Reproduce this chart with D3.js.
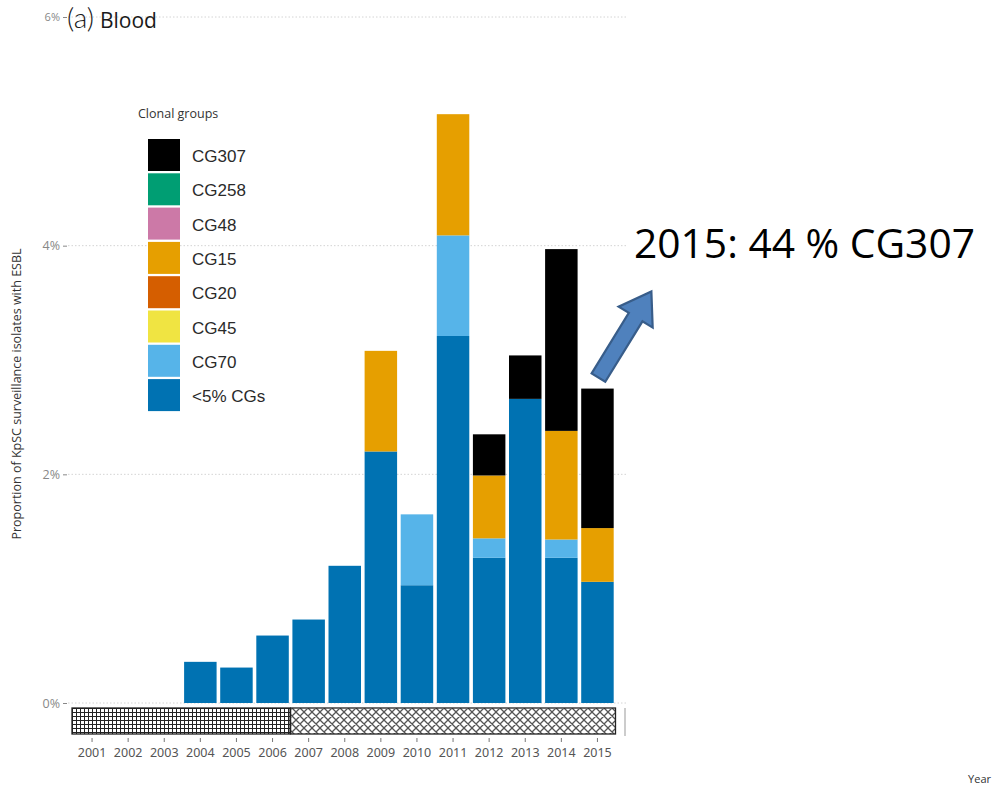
<!DOCTYPE html>
<html>
<head>
<meta charset="utf-8">
<script src="https://cdn.jsdelivr.net/npm/d3@7"></script>
<style>
  html, body { margin: 0; padding: 0; background: #fff; }
  svg { display: block; }
</style>
</head>
<body>
<svg id="chart" width="992" height="785"></svg>
<script>
// Years on the x axis
const years = ["2001","2002","2003","2004","2005","2006","2007","2008",
               "2009","2010","2011","2012","2013","2014","2015"];

// Clonal groups, stacked bottom to top
const groups = ["<5% CGs","CG70","CG45","CG20","CG15","CG48","CG258","CG307"];
// Legend order, top to bottom
const legendOrder = ["CG307","CG258","CG48","CG15","CG20","CG45","CG70","<5% CGs"];
const groupColors = ["#0072B2","#56B4E9","#F0E442","#D55E00","#E69F00","#CC79A7","#009E73","#000000"];

// Proportion (%) of KpSC surveillance isolates with ESBL, per clonal group and year
const minorCGs = [0,0,0,0.36,0.31,0.59,0.73,1.20,2.20,1.03,3.21,1.27,2.66,1.27,1.06];
const cg70     = [0,0,0,0,0,0,0,0,0,0.62,0.88,0.17,0,0.16,0];
const cg45     = [0,0,0,0,0,0,0,0,0,0,0,0,0,0,0];
const cg20     = [0,0,0,0,0,0,0,0,0,0,0,0,0,0,0];
const cg15     = [0,0,0,0,0,0,0,0,0.88,0,1.06,0.55,0,0.95,0.47];
const cg48     = [0,0,0,0,0,0,0,0,0,0,0,0,0,0,0];
const cg258    = [0,0,0,0,0,0,0,0,0,0,0,0,0,0,0];
const cg307    = [0,0,0,0,0,0,0,0,0,0,0,0.36,0.38,1.59,1.22];

// Y axis ticks (%)
const yTicks = [0, 2, 4, 6];

// Sampling periods shown in the strip under the bars
const periodStart   = ["2001","2007"];
const periodEnd     = ["2006","2015"];
const periodPattern = ["gridHatch","diamondHatch"];

// Annotation
const noteYear = "2015";
const noteText = "2015: 44 % CG307";

const seriesValues = [minorCGs, cg70, cg45, cg20, cg15, cg48, cg258, cg307];
const table = years.map((yr, i) => {
  const row = { year: yr };
  groups.forEach((g, k) => { row[g] = seriesValues[k][i]; });
  return row;
});

const svg = d3.select("#chart");
const color = d3.scaleOrdinal().domain(groups).range(groupColors);

const x = d3.scaleBand().domain(years).range([74, 615.5]).paddingInner(0.1).paddingOuter(0.05);
const y = d3.scaleLinear().domain([0, 6]).range([703, 17]);

// Patterns for the period strip
const defs = svg.append("defs");
const pg = defs.append("pattern").attr("id", "gridHatch")
  .attr("patternUnits", "userSpaceOnUse").attr("width", 4).attr("height", 4);
pg.append("rect").attr("width", 4).attr("height", 4).attr("fill", "#fff");
pg.append("path").attr("d", "M0,0.5H4M0.5,0V4").attr("stroke", "#222").attr("stroke-width", 1);

const pd = defs.append("pattern").attr("id", "diamondHatch")
  .attr("patternUnits", "userSpaceOnUse").attr("width", 8).attr("height", 8);
pd.append("rect").attr("width", 8).attr("height", 8).attr("fill", "#fff");
pd.append("path").attr("d", "M0,0L8,8M8,0L0,8M-1,7L1,9M7,-1L9,1M-1,1L1,-1M7,9L9,7")
  .attr("stroke", "#555").attr("stroke-width", 1.3);

// Dotted grid lines
svg.append("g").selectAll("line").data(yTicks).join("line")
  .attr("x1", 68).attr("x2", 626)
  .attr("y1", d => y(d)).attr("y2", d => y(d))
  .attr("stroke", "#d4d4d4").attr("stroke-width", 1).attr("stroke-dasharray", "1.5,2");

// Y axis
const yAxis = svg.append("g").attr("transform", "translate(67,0)")
  .call(d3.axisLeft(y).tickValues(yTicks).tickFormat(d => d + "%").tickSize(4).tickPadding(3));
yAxis.select(".domain").remove();
yAxis.selectAll(".tick line").attr("stroke", "#888");
yAxis.selectAll(".tick text").attr("fill", "#888")
  .style("font-family", "'Open Sans', sans-serif").style("font-size", "12.5px");
// keep the top tick label clear of the panel title
yAxis.selectAll(".tick").filter(d => d === 6).select("text").style("font-size", "11px");

// Stacked bars
const stacked = d3.stack().keys(groups)(table);
svg.append("g").selectAll("g").data(stacked).join("g")
  .attr("fill", d => color(d.key))
  .selectAll("rect").data(d => d.filter(s => s[1] - s[0] > 0)).join("rect")
  .attr("x", d => x(d.data.year))
  .attr("width", x.bandwidth())
  .attr("y", d => y(d[1]))
  .attr("height", d => y(d[0]) - y(d[1]));

// Period strip
const stripTop = 708, stripH = 26;
const halfGap = x.step() * x.paddingInner() / 2;
svg.append("g").selectAll("rect").data(periodStart.map((s, i) => i)).join("rect")
  .attr("x", i => x(periodStart[i]) - halfGap - (i === 0 ? 2 : 0))
  .attr("width", i => x(periodEnd[i]) + x.bandwidth() + halfGap
                       - (x(periodStart[i]) - halfGap) + (i === 0 ? 1.5 : 0))
  .attr("y", stripTop).attr("height", stripH)
  .attr("fill", i => `url(#${periodPattern[i]})`)
  .attr("stroke", "#222").attr("stroke-width", 1.3);

svg.append("line").attr("x1", 625).attr("x2", 625).attr("y1", stripTop).attr("y2", stripTop + stripH + 2)
  .attr("stroke", "#999").attr("stroke-width", 1);

// X axis (ticks + year labels)
const xAxis = svg.append("g").attr("transform", `translate(0,${stripTop + stripH + 4})`)
  .call(d3.axisBottom(x).tickSize(4).tickPadding(6));
xAxis.select(".domain").remove();
xAxis.selectAll(".tick line").attr("stroke", "#777");
xAxis.selectAll(".tick text").attr("fill", "#555")
  .style("font-family", "'Noto Sans', sans-serif").style("font-size", "12.5px");

// Axis titles
svg.append("text")
  .attr("transform", `translate(21,${(y(0) + y(6)) / 2 + 34}) rotate(-90)`)
  .attr("text-anchor", "middle")
  .attr("fill", "#333")
  .style("font-family", "'Open Sans', sans-serif").style("font-size", "12.5px")
  .text("Proportion of KpSC surveillance isolates with ESBL");

svg.append("text").attr("x", 991).attr("y", 783)
  .attr("text-anchor", "end")
  .attr("fill", "#333")
  .style("font-family", "'Open Sans', sans-serif").style("font-size", "11px")
  .text("Year");

// Panel title
const title = svg.append("text").attr("x", 67).attr("y", 28).attr("fill", "#1a1a1a");
title.append("tspan").text("(a)")
  .style("font-family", "Lato, sans-serif").style("font-weight", 300).style("font-size", "28px");
title.append("tspan").text("Blood").attr("dx", 6)
  .style("font-family", "'Open Sans', sans-serif").style("font-weight", 500).style("font-size", "21px");

// Legend
const legend = svg.append("g");
legend.append("text").attr("x", 138).attr("y", 118)
  .attr("fill", "#333")
  .style("font-family", "'Open Sans', sans-serif").style("font-size", "12.5px")
  .text("Clonal groups");
const item = legend.selectAll("g.item").data(legendOrder).join("g").attr("class", "item")
  .attr("transform", (d, i) => `translate(148,${139 + i * 34.3})`);
item.append("rect").attr("width", 32).attr("height", 32).attr("fill", d => color(d));
item.append("text").attr("x", 44).attr("y", 23)
  .attr("fill", "#2a2a2a")
  .style("font-family", "'Liberation Sans', Arial, sans-serif").style("font-size", "17px")
  .text(d => d);

// Annotation: share of CG307 in the final year
const noteRow = table.find(r => r.year === noteYear);
const noteTotal = d3.sum(groups, g => noteRow[g]);
const tailX = x(noteYear) + x.bandwidth() / 2 + 1;
const tailY = y(noteTotal) - 11;
const arrowLen = 101, angle = -58.4;
svg.append("path")
  .attr("transform", `translate(${tailX},${tailY}) rotate(${angle})`)
  .attr("d", `M0,-8L${arrowLen - 30},-8L${arrowLen - 30},-20L${arrowLen},0L${arrowLen - 30},20L${arrowLen - 30},8L0,8Z`)
  .attr("fill", "#4f81bd").attr("stroke", "#385d8a").attr("stroke-width", 2.2)
  .attr("stroke-linejoin", "miter");

svg.append("text").attr("x", 634).attr("y", 258)
  .attr("fill", "#000")
  .style("font-family", "'Open Sans', sans-serif").style("font-size", "40px")
  .attr("textLength", 341).attr("lengthAdjust", "spacingAndGlyphs")
  .text(noteText);
</script>
</body>
</html>
